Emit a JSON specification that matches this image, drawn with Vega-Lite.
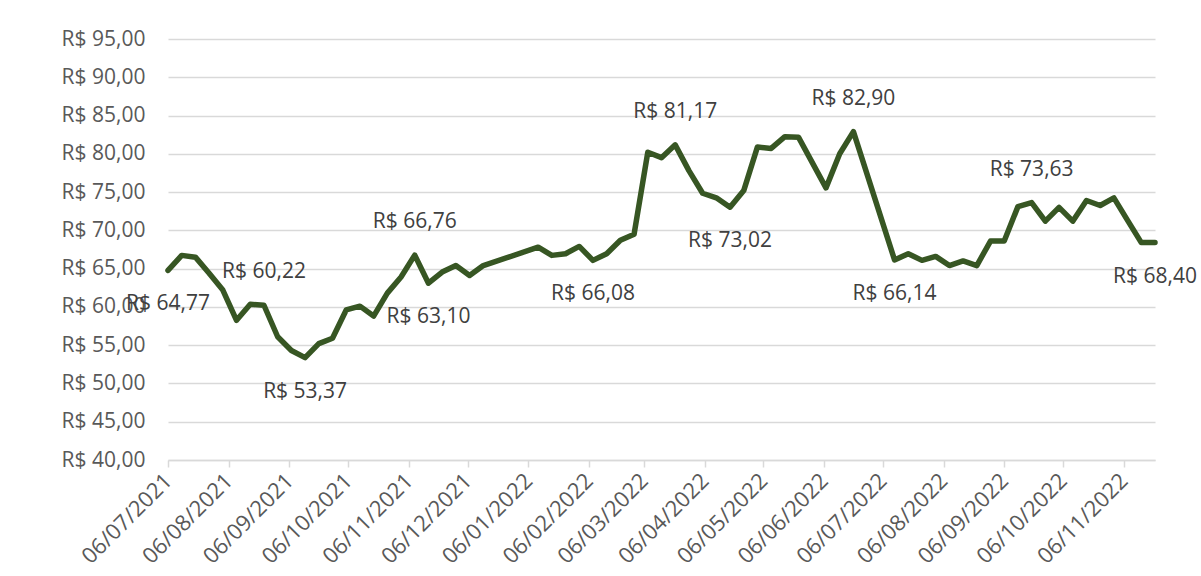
{
  "$schema": "https://vega.github.io/schema/vega-lite/v6.json",
  "autosize": {"type": "none"},
  "padding": {"left": 168, "top": 39, "right": 46, "bottom": 116},
  "width": 987,
  "height": 421,
  "background": "white",
  "config": {
    "locale": {"number": {"decimal": ",", "thousands": ".", "grouping": [3], "currency": ["R$ ", ""]}},
    "view": {"stroke": null},
    "font": "Open Sans"
  },
  "data": {"values": [
    {"d": "2021-07-06", "v": 64.77},
    {"d": "2021-07-13", "v": 66.73},
    {"d": "2021-07-20", "v": 66.5},
    {"d": "2021-07-27", "v": 64.4},
    {"d": "2021-08-03", "v": 62.2},
    {"d": "2021-08-10", "v": 58.25},
    {"d": "2021-08-17", "v": 60.34},
    {"d": "2021-08-24", "v": 60.22},
    {"d": "2021-08-31", "v": 56.1},
    {"d": "2021-09-07", "v": 54.3},
    {"d": "2021-09-14", "v": 53.37},
    {"d": "2021-09-21", "v": 55.2},
    {"d": "2021-09-28", "v": 55.9},
    {"d": "2021-10-05", "v": 59.6},
    {"d": "2021-10-12", "v": 60.1},
    {"d": "2021-10-19", "v": 58.8},
    {"d": "2021-10-26", "v": 61.8},
    {"d": "2021-11-02", "v": 63.9},
    {"d": "2021-11-09", "v": 66.76},
    {"d": "2021-11-16", "v": 63.10},
    {"d": "2021-11-23", "v": 64.55},
    {"d": "2021-11-30", "v": 65.4},
    {"d": "2021-12-07", "v": 64.1},
    {"d": "2021-12-14", "v": 65.4},
    {"d": "2022-01-11", "v": 67.8},
    {"d": "2022-01-18", "v": 66.73},
    {"d": "2022-01-25", "v": 66.95},
    {"d": "2022-02-01", "v": 67.9},
    {"d": "2022-02-08", "v": 66.08},
    {"d": "2022-02-15", "v": 66.95},
    {"d": "2022-02-22", "v": 68.7},
    {"d": "2022-03-01", "v": 69.5},
    {"d": "2022-03-08", "v": 80.2},
    {"d": "2022-03-15", "v": 79.5},
    {"d": "2022-03-22", "v": 81.17},
    {"d": "2022-03-29", "v": 77.8},
    {"d": "2022-04-05", "v": 74.85},
    {"d": "2022-04-12", "v": 74.25},
    {"d": "2022-04-19", "v": 73.02},
    {"d": "2022-04-26", "v": 75.2},
    {"d": "2022-05-03", "v": 80.9},
    {"d": "2022-05-10", "v": 80.7},
    {"d": "2022-05-17", "v": 82.24},
    {"d": "2022-05-24", "v": 82.15},
    {"d": "2022-06-07", "v": 75.55},
    {"d": "2022-06-14", "v": 80.0},
    {"d": "2022-06-21", "v": 82.90},
    {"d": "2022-07-12", "v": 66.14},
    {"d": "2022-07-19", "v": 66.95},
    {"d": "2022-07-26", "v": 66.08},
    {"d": "2022-08-02", "v": 66.6},
    {"d": "2022-08-09", "v": 65.4},
    {"d": "2022-08-16", "v": 66.0},
    {"d": "2022-08-23", "v": 65.4},
    {"d": "2022-08-30", "v": 68.6},
    {"d": "2022-09-06", "v": 68.6},
    {"d": "2022-09-13", "v": 73.1},
    {"d": "2022-09-20", "v": 73.63},
    {"d": "2022-09-27", "v": 71.2},
    {"d": "2022-10-04", "v": 73.0},
    {"d": "2022-10-11", "v": 71.2},
    {"d": "2022-10-18", "v": 73.9},
    {"d": "2022-10-25", "v": 73.25},
    {"d": "2022-11-01", "v": 74.25},
    {"d": "2022-11-08", "v": 71.3},
    {"d": "2022-11-15", "v": 68.4},
    {"d": "2022-11-22", "v": 68.40}
  ]},
  "encoding": {
    "x": {
      "field": "d", "type": "temporal",
      "scale": {"type": "utc", "domain": [{"year": 2021, "month": 7, "date": 6, "utc": true}, {"year": 2022, "month": 11, "date": 22, "utc": true}]},
      "axis": {
        "title": null,
        "labelExpr": "utcFormat(datum.value, '%d/%m/%Y')",
        "values": [
          {"year": 2021, "month": 7, "date": 6, "utc": true},
          {"year": 2021, "month": 8, "date": 6, "utc": true},
          {"year": 2021, "month": 9, "date": 6, "utc": true},
          {"year": 2021, "month": 10, "date": 6, "utc": true},
          {"year": 2021, "month": 11, "date": 6, "utc": true},
          {"year": 2021, "month": 12, "date": 6, "utc": true},
          {"year": 2022, "month": 1, "date": 6, "utc": true},
          {"year": 2022, "month": 2, "date": 6, "utc": true},
          {"year": 2022, "month": 3, "date": 6, "utc": true},
          {"year": 2022, "month": 4, "date": 6, "utc": true},
          {"year": 2022, "month": 5, "date": 6, "utc": true},
          {"year": 2022, "month": 6, "date": 6, "utc": true},
          {"year": 2022, "month": 7, "date": 6, "utc": true},
          {"year": 2022, "month": 8, "date": 6, "utc": true},
          {"year": 2022, "month": 9, "date": 6, "utc": true},
          {"year": 2022, "month": 10, "date": 6, "utc": true},
          {"year": 2022, "month": 11, "date": 6, "utc": true}
        ],
        "grid": false,
        "labelAngle": -45, "labelAlign": "right", "labelBaseline": "middle",
        "labelFontSize": 22, "labelColor": "#595959", "labelPadding": 10,
        "labelOverlap": false, "labelFlush": false,
        "domainColor": "#d9d9d9", "domainWidth": 1.5,
        "tickColor": "#d9d9d9", "tickSize": 7, "tickWidth": 1.5
      }
    },
    "y": {
      "field": "v", "type": "quantitative",
      "scale": {"domain": [40, 95], "nice": false, "zero": false},
      "axis": {
        "title": null, "format": "$.2f", "values": [40, 45, 50, 55, 60, 65, 70, 75, 80, 85, 90, 95],
        "domain": false, "ticks": false, "labelPadding": 23,
        "labelFontSize": 21, "labelColor": "#595959",
        "gridColor": "#d9d9d9", "gridWidth": 1.5
      }
    }
  },
  "layer": [
    {"mark": {"type": "line", "color": "#375623", "strokeWidth": 5.5, "strokeJoin": "round", "strokeCap": "round"}},
    {
      "transform": [{"filter": "indexof(['2021-08-24','2021-11-09','2022-03-22','2022-06-21','2022-09-20'], utcFormat(toDate(datum.d), '%Y-%m-%d')) >= 0"}],
      "mark": {"type": "text", "dy": -33, "fontSize": 21, "color": "#404040", "baseline": "middle"},
      "encoding": {"text": {"field": "v", "type": "quantitative", "format": "$.2f"}}
    },
    {
      "transform": [{"filter": "indexof(['2021-07-06','2021-09-14','2021-11-16','2022-02-08','2022-04-19','2022-07-12','2022-11-22'], utcFormat(toDate(datum.d), '%Y-%m-%d')) >= 0"}],
      "mark": {"type": "text", "dy": 34, "fontSize": 21, "color": "#404040", "baseline": "middle"},
      "encoding": {"text": {"field": "v", "type": "quantitative", "format": "$.2f"}}
    }
  ]
}
